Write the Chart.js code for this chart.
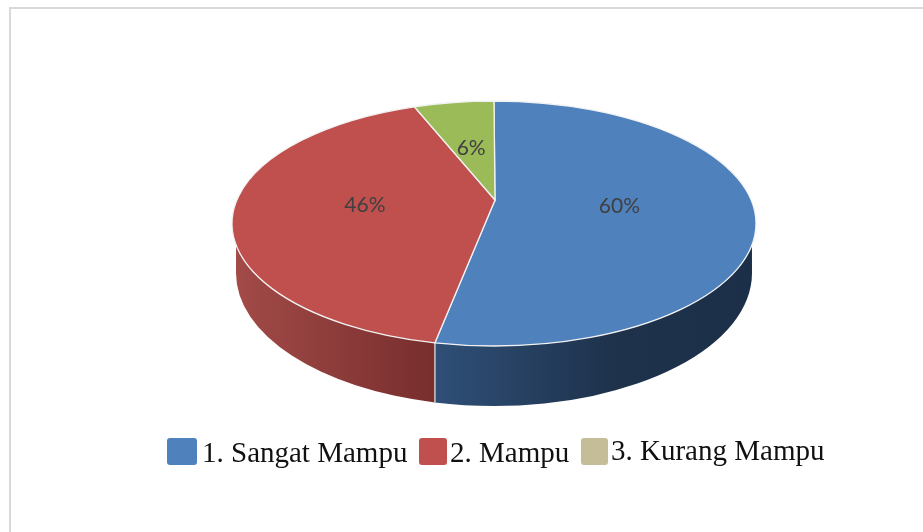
<!DOCTYPE html>
<html>
<head>
<meta charset="utf-8">
<script src="https://cdn.jsdelivr.net/npm/chart.js@4"></script>
<style>html,body{margin:0;padding:0;background:#fff}canvas{display:block}</style>
</head>
<body>
<canvas id="c" width="923" height="532"></canvas>
<script>
const categories = ['1. Sangat Mampu', '2. Mampu', '3. Kurang Mampu'];
const values = [60, 46.4, 5.5];
const sliceColors = ['#4F81BD', '#C0504D', '#9BBB59'];
const legendColors = ['#4F81BD', '#C0504D', '#C4BD97'];

const SQUASH = 122.5 / 262, CY_SHIFT = -42.5, APEX_SHIFT = -23.5;
const BOTTOM = {rxD: -4, cyD: 49.5, ry: 133};

const pie3d = {
  id: 'pie3d',
  beforeDraw(chart) {
    const c = chart.ctx;
    c.save();
    c.fillStyle = '#fff';
    c.fillRect(0, 0, chart.width, chart.height);
    c.fillStyle = '#D9D9D9';
    c.fillRect(9, 7, chart.width - 9, 2);
    c.fillRect(9, 7, 2, chart.height - 7);
    c.restore();
  },
  beforeDatasetDraw(chart, args) {
    const c = chart.ctx, arcs = args.meta.data;
    const a0 = arcs[0];
    const cx = a0.x, rx = a0.outerRadius, ry = rx * SQUASH, cy = a0.y + CY_SHIFT;
    const ax = cx + 1, ay = cy + APEX_SHIFT;
    const brx = rx + BOTTOM.rxD, bcy = cy + BOTTOM.cyD, bry = BOTTOM.ry;
    const phiB = a0.endAngle;
    const tx = cx + rx * Math.cos(phiB), ty = cy + ry * Math.sin(phiB);
    const bPhi = Math.acos((tx - cx) / brx);
    const j = 0.176;
    c.save();
    // blue wall
    let g = c.createLinearGradient(tx, 0, cx + rx, 0);
    g.addColorStop(0, '#2F4F77'); g.addColorStop(0.55, '#1E324C'); g.addColorStop(1, '#1C2F48');
    c.beginPath();
    c.moveTo(cx + rx * Math.cos(j), cy + ry * Math.sin(j));
    c.ellipse(cx, bcy, brx, bry, 0, 0, bPhi);
    c.lineTo(tx, ty);
    c.ellipse(cx, cy, rx, ry, 0, phiB, j, true);
    c.closePath();
    c.fillStyle = g; c.fill();
    // red wall
    g = c.createLinearGradient(cx - rx, 0, tx, 0);
    g.addColorStop(0, '#A34B48'); g.addColorStop(1, '#772E2D');
    c.beginPath();
    c.moveTo(tx, ty);
    c.ellipse(cx, bcy, brx, bry, 0, bPhi, Math.PI);
    c.lineTo(cx + rx * Math.cos(Math.PI - j), cy + ry * Math.sin(Math.PI - j));
    c.ellipse(cx, cy, rx, ry, 0, Math.PI - j, phiB, true);
    c.closePath();
    c.fillStyle = g; c.fill();
    // wall seam
    c.strokeStyle = '#E8E8E8'; c.lineWidth = 1.2;
    c.beginPath();
    c.moveTo(tx, ty);
    c.lineTo(tx, bcy + bry * Math.sin(bPhi));
    c.stroke();
    // top faces
    arcs.forEach((el, i) => {
      c.beginPath();
      c.moveTo(ax, ay);
      c.ellipse(cx, cy, rx, ry, 0, el.startAngle, el.endAngle);
      c.closePath();
      c.fillStyle = sliceColors[i];
      c.fill();
      c.strokeStyle = '#F2F2F2';
      c.lineWidth = 1.3;
      c.stroke();
    });
    c.restore();
    return false;
  },
  afterDraw(chart) {
    const c = chart.ctx, arcs = chart.getDatasetMeta(0).data;
    const a0 = arcs[0];
    const cx = a0.x, rx = a0.outerRadius, ry = rx * SQUASH, cy = a0.y + CY_SHIFT;
    const ax = cx + 1, ay = cy + APEX_SHIFT;
    const nudge = [[0, -12], [-4, -8], [-4, -5]];
    c.save();
    c.font = '21px Lato, "Open Sans", sans-serif';
    c.fillStyle = '#404040';
    c.textAlign = 'center';
    c.textBaseline = 'middle';
    arcs.forEach((el, i) => {
      const m = (el.startAngle + el.endAngle) / 2;
      const x = ax + 0.48 * (cx + rx * Math.cos(m) - ax) + nudge[i][0];
      const y = ay + 0.48 * (cy + ry * Math.sin(m) - ay) + nudge[i][1];
      c.fillText(Math.round(values[i]) + '%', x, y);
    });
    // legend
    const swatchX = [167, 419, 581], swatchW = [30, 28, 27], textX = [202, 450, 611];
    c.font = '29px "Liberation Serif", serif';
    c.textAlign = 'left';
    c.textBaseline = 'alphabetic';
    categories.forEach((t, i) => {
      c.fillStyle = legendColors[i];
      c.beginPath();
      c.roundRect(swatchX[i], 438, swatchW[i], 27, 3);
      c.fill();
      c.fillStyle = '#111';
      c.fillText(t, textX[i], i === 2 ? 460 : 462);
    });
    c.restore();
  }
};

new Chart(document.getElementById('c'), {
  type: 'pie',
  data: {
    labels: categories,
    datasets: [{data: values, backgroundColor: sliceColors, borderWidth: 0}]
  },
  options: {
    responsive: false,
    animation: false,
    layout: {padding: {left: 100, right: 35, top: 4, bottom: 4}},
    plugins: {legend: {display: false}, tooltip: {enabled: false}}
  },
  plugins: [pie3d]
});
</script>
</body>
</html>
